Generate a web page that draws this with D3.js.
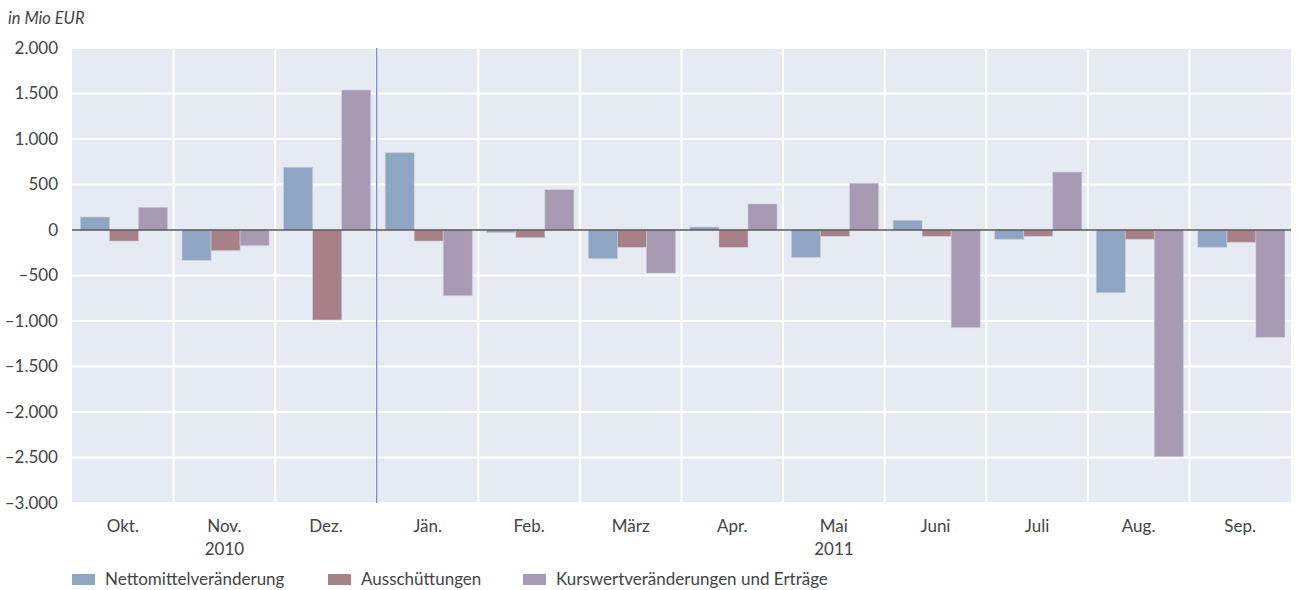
<!DOCTYPE html>
<html lang="de">
<head>
  <meta charset="UTF-8">
  <title>Nettomittelveränderung, Ausschüttungen, Kurswertveränderungen</title>
  <script src="https://d3js.org/d3.v7.min.js"></script>
  <style>
    body { margin: 0; background: #fff; font-family: Lato, "Open Sans", sans-serif; }
    svg text { fill: #444; }
    .tick-label { font-size: 17px; }
    .legend-label { font-size: 17px; }
  </style>
</head>
<body>
  <svg width="1299" height="590"></svg>
  <script>
    // Data (Mio EUR)
    const months = ["Okt.", "Nov.", "Dez.", "Jän.", "Feb.", "März", "Apr.", "Mai", "Juni", "Juli", "Aug.", "Sep."];
    const yearLabels = {"Nov.": "2010", "Mai": "2011"};
    const seriesNames = ["Nettomittelveränderung", "Ausschüttungen", "Kurswertveränderungen und Erträge"];
    const netto   = [143, -333, 689, 850, -29, -315, 33, -300, 106, -102, -689, -190];
    const aussch  = [-121, -227, -989, -121, -84, -190, -190, -69, -69, -69, -102, -135];
    const kurs    = [249, -172, 1538, -722, 443, -473, 286, 513, -1073, 637, -2491, -1179];
    const yTicks  = [2000, 1500, 1000, 500, 0, -500, -1000, -1500, -2000, -2500, -3000];
    const colors  = ["#8fa5c4", "#a88087", "#a89ab2"];

    const svg = d3.select("svg");
    const margin = {top: 48, left: 72, right: 8, bottom: 87};
    const width = 1299 - margin.left - margin.right;
    const height = 590 - margin.top - margin.bottom;

    const g = svg.append("g").attr("transform", `translate(${margin.left},${margin.top})`);

    const x0 = d3.scaleBand().domain(months).range([0, width]).padding(0);
    const x1 = d3.scaleBand().domain(d3.range(3)).range([1.2, x0.bandwidth() + 1.2])
                 .paddingInner(0).paddingOuter(0.25);
    const y = d3.scaleLinear().domain([-3000, 2000]).range([height, 0]);

    // background
    g.append("rect").attr("width", width).attr("height", height).attr("fill", "#e6eaf2");

    // horizontal grid
    g.selectAll(".hgrid").data(yTicks).enter().append("line")
      .attr("x1", 0).attr("x2", width)
      .attr("y1", d => y(d)).attr("y2", d => y(d))
      .attr("stroke", "#fff").attr("stroke-width", 2);

    // vertical grid
    g.selectAll(".vgrid").data(months.slice(1)).enter().append("line")
      .attr("x1", d => x0(d)).attr("x2", d => x0(d))
      .attr("y1", 0).attr("y2", height)
      .attr("stroke", "#fff").attr("stroke-width", 2);

    // year separator
    g.append("line")
      .attr("x1", x0("Jän.")).attr("x2", x0("Jän."))
      .attr("y1", 0).attr("y2", height)
      .attr("stroke", "#5f80bd").attr("stroke-width", 1.2);

    // bars
    const data = months.map((m, i) => ({m, vals: [netto[i], aussch[i], kurs[i]]}));
    const groups = g.selectAll(".grp").data(data).enter().append("g")
      .attr("transform", d => `translate(${x0(d.m)},0)`);
    groups.selectAll("rect").data(d => d.vals.map((v, k) => ({v, k}))).enter().append("rect")
      .attr("x", d => x1(d.k))
      .attr("width", x1.bandwidth())
      .attr("y", d => y(Math.max(0, d.v)))
      .attr("height", d => Math.abs(y(d.v) - y(0)))
      .attr("fill", d => colors[d.k])
      .attr("stroke", "#c9cfdc").attr("stroke-width", 0.8).attr("stroke-opacity", 0.7);

    // zero line
    g.append("line")
      .attr("x1", 0).attr("x2", width)
      .attr("y1", y(0)).attr("y2", y(0))
      .attr("stroke", "#555").attr("stroke-width", 1.5);

    // y axis labels
    const yAxis = d3.axisLeft(y).tickValues(yTicks).tickSize(0).tickPadding(14)
      .tickFormat(d => (d < 0 ? "\u2013" : "") + d3.format(",")(Math.abs(d)).replace(/,/g, "."));
    const ya = g.append("g").call(yAxis);
    ya.select(".domain").remove();
    ya.selectAll("text").attr("class", "tick-label").attr("fill", "#444").style("font-family", "Lato, sans-serif");

    // x axis labels
    const xa = g.append("g").attr("transform", `translate(0,${height})`)
      .call(d3.axisBottom(x0).tickSize(0).tickPadding(17));
    xa.select(".domain").remove();
    xa.selectAll("text").attr("class", "tick-label").attr("fill", "#444").style("font-family", "Lato, sans-serif");
    xa.selectAll(".tick").filter(d => yearLabels[d]).append("text")
      .attr("class", "tick-label").attr("fill", "#444")
      .attr("y", 40).attr("dy", "0.71em").attr("text-anchor", "middle")
      .style("font-family", "Lato, sans-serif")
      .text(d => yearLabels[d]);

    // unit label
    svg.append("text").attr("x", 8).attr("y", 24)
      .style("font-style", "italic").style("font-size", "16.5px")
      .text("in Mio EUR");

    // legend
    const legendX = [72, 328, 523];
    const lg = svg.selectAll(".lg").data(seriesNames).enter().append("g")
      .attr("transform", (d, i) => `translate(${legendX[i]},579)`);
    lg.append("rect").attr("y", -5).attr("width", 23).attr("height", 11)
      .attr("fill", (d, i) => colors[i]);
    lg.append("text").attr("class", "legend-label").attr("x", 33).attr("dy", "0.35em").text(d => d);
  </script>
</body>
</html>
